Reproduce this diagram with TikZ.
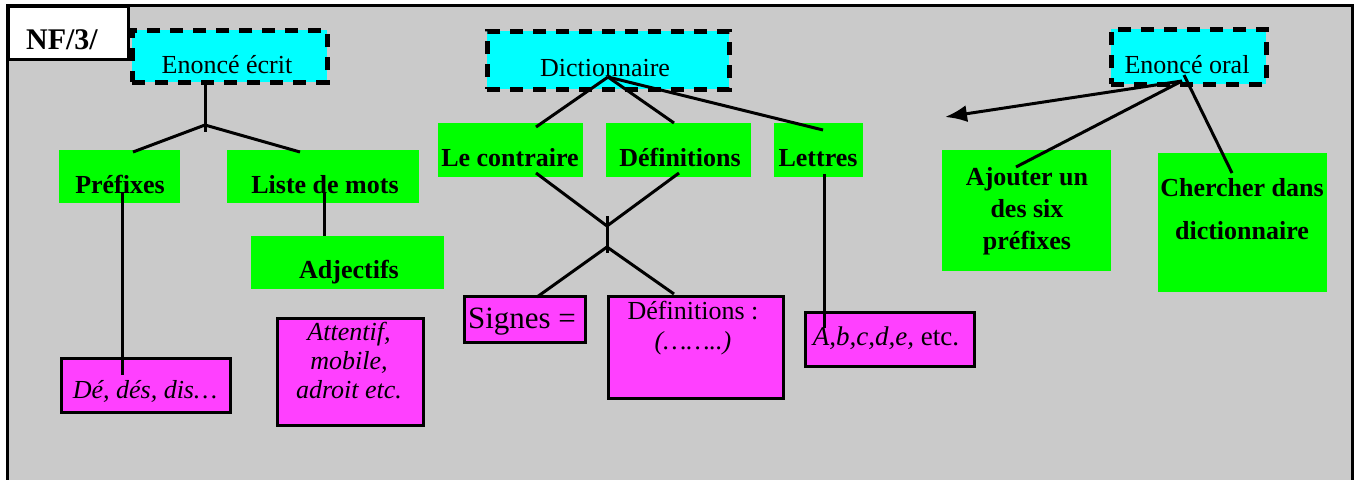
\documentclass[tikz,border=0pt]{standalone}
\usepackage{fontspec}
\setmainfont{Liberation Serif}
\usetikzlibrary{arrows.meta}
\definecolor{bggray}{RGB}{202,202,202}
\definecolor{boxgreen}{RGB}{0,255,0}
\definecolor{boxcyan}{RGB}{0,255,255}
\definecolor{boxmag}{RGB}{255,64,255}
\tikzset{
  cyanbox/.style={fill=boxcyan, draw=black, line width=4.5pt, dash pattern=on 13pt off 10pt, anchor=north west, inner sep=0pt},
  greenbox/.style={fill=boxgreen, draw=none, anchor=north west, inner sep=0pt},
  magbox/.style={fill=boxmag, draw=black, line width=3pt, anchor=north west, inner sep=0pt},
  conn/.style={line width=3pt, draw=black},
  txt/.style={inner sep=0pt, anchor=base, font=\fontsize{26}{30}\selectfont},
  btxt/.style={inner sep=0pt, anchor=base, font=\fontsize{26}{30}\selectfont\bfseries},
  itxt/.style={inner sep=0pt, anchor=base, font=\fontsize{26}{30}\selectfont\itshape},
}
\begin{document}
\begin{tikzpicture}[x=1pt,y=-1pt]
\useasboundingbox (0,0) rectangle (1359,479);
\fill[white] (0,0) rectangle (1359,479);
% background frame
\fill[bggray] (7,5) rectangle (1352,482);
\draw[line width=3pt] (7,482) -- (7,5) -- (1352,5) -- (1352,482);
% title box
\node[draw=black, fill=white, line width=3pt, anchor=north west, minimum width=120pt, minimum height=53pt, inner sep=0pt] (nfbox) at (7,5) {};
\node[inner sep=0pt, anchor=base, font=\fontsize{30}{34}\selectfont\bfseries] (nf) at (62,49) {NF/3/};

% ---- boxes ----
\node[cyanbox, minimum width=195pt, minimum height=52pt] (ee) at (130,28) {};
\node[cyanbox, minimum width=242pt, minimum height=58pt] (dic) at (485,29) {};
\node[cyanbox, minimum width=155pt, minimum height=55pt] (eo) at (1109,27) {};

\node[greenbox, minimum width=121pt, minimum height=53pt] (pref) at (59,150) {};
\node[greenbox, minimum width=192pt, minimum height=53pt] (liste) at (227,150) {};
\node[greenbox, minimum width=193pt, minimum height=53pt] (adj) at (251,236) {};
\node[greenbox, minimum width=145pt, minimum height=54pt] (contr) at (438,123) {};
\node[greenbox, minimum width=145pt, minimum height=54pt] (defs) at (606,123) {};
\node[greenbox, minimum width=89pt, minimum height=54pt] (lett) at (774,123) {};
\node[greenbox, minimum width=169pt, minimum height=121pt] (ajou) at (942,150) {};
\node[greenbox, minimum width=169pt, minimum height=139pt] (cherch) at (1158,153) {};

\node[magbox, minimum width=169pt, minimum height=54pt] (de) at (60,357) {};
\node[magbox, minimum width=146pt, minimum height=107pt] (att) at (276,317) {};
\node[magbox, minimum width=121pt, minimum height=46pt] (sig) at (463,295) {};
\node[magbox, minimum width=175pt, minimum height=102pt] (defm) at (607,295) {};
\node[magbox, minimum width=169pt, minimum height=54pt] (abc) at (804,311) {};

% ---- texts ----
\node[txt] (eet) at (227,73) {Enoncé écrit};
\node[txt] (dict) at (605,76) {Dictionnaire};
\node[txt] (eot) at (1187,73) {Enoncé oral};

\node[btxt] (preft) at (120,193) {Préfixes};
\node[btxt] (listet) at (325,193) {Liste de mots};
\node[btxt] (adjt) at (349,278) {Adjectifs};
\node[btxt] (contrt) at (510,166) {Le contraire};
\node[btxt] (defst) at (680,166) {Définitions};
\node[btxt] (lettt) at (818,166) {Lettres};
\node[btxt, align=center, font=\fontsize{26}{32}\selectfont\bfseries] (ajout) at (1027,249) {Ajouter un\\des six\\préfixes};
\node[btxt, align=center, font=\fontsize{26}{43}\selectfont\bfseries] (cherct) at (1242,239) {Chercher dans\\dictionnaire};

\node[itxt] (det) at (145,398) {Dé, dés, dis…};
\node[itxt, align=center, font=\fontsize{26}{29}\selectfont\itshape] (attt) at (349,398) {Attentif,\\mobile,\\adroit etc.};
\node[txt, font=\fontsize{31}{34}\selectfont] (sigt) at (522,328) {Signes =};
\node[txt, align=center, font=\fontsize{26}{30}\selectfont] (defmt) at (693,349) {Définitions :\\\textit{(……..)}};
\node[txt, font=\fontsize{27}{30}\selectfont] (abct) at (886,345) {\textit{A,b,c,d,e,} etc.};

% ---- connector points ----
\coordinate (ee-o) at (205,80);
\coordinate (ee-j) at (205,125);
\coordinate (ee-jb) at (205,132);
\coordinate (pref-in) at (133,152);
\coordinate (liste-in) at (300,152);
\coordinate (pref-o) at (122,192);
\coordinate (de-in) at (122,375);
\coordinate (liste-o) at (324,193);
\coordinate (adj-in) at (324,236);

\coordinate (dic-o) at (608,77);
\coordinate (contr-in) at (536,127);
\coordinate (defs-in) at (674,123);
\coordinate (lett-in) at (823,130);
\coordinate (contr-o) at (536,173);
\coordinate (defs-o) at (679,173);
\coordinate (jx1) at (607,226);
\coordinate (jx2) at (607,247);
\coordinate (jtop) at (607,216);
\coordinate (jbot) at (607,253);
\coordinate (sig-in) at (537,297);
\coordinate (defm-in) at (674,294);
\coordinate (lett-o) at (824,174);
\coordinate (abc-in) at (824,328);

\coordinate (eo-o) at (1182,81);
\coordinate (eo-o2) at (1184,75);
\coordinate (arrowend) at (945,117);
\coordinate (ajou-in) at (1016,167);
\coordinate (cherch-in) at (1232,173);

% ---- connectors ----
\draw[conn] (ee-o) -- (ee-jb);
\draw[conn] (pref-in) -- (ee-j) -- (liste-in);
\draw[conn] (pref-o) -- (de-in);
\draw[conn] (liste-o) -- (adj-in);

\draw[conn] (dic-o) -- (contr-in);
\draw[conn] (dic-o) -- (defs-in);
\draw[conn] (dic-o) -- (lett-in);
\draw[conn] (contr-o) -- (jx1) -- (defs-o);
\draw[conn] (jtop) -- (jbot);
\draw[conn] (sig-in) -- (jx2) -- (defm-in);
\draw[conn] (lett-o) -- (abc-in);

\draw[conn, -{Latex[length=22pt,width=17pt]}] (eo-o) -- (arrowend);
\draw[conn] (eo-o) -- (ajou-in);
\draw[conn] (eo-o2) -- (cherch-in);
\end{tikzpicture}
\end{document}
